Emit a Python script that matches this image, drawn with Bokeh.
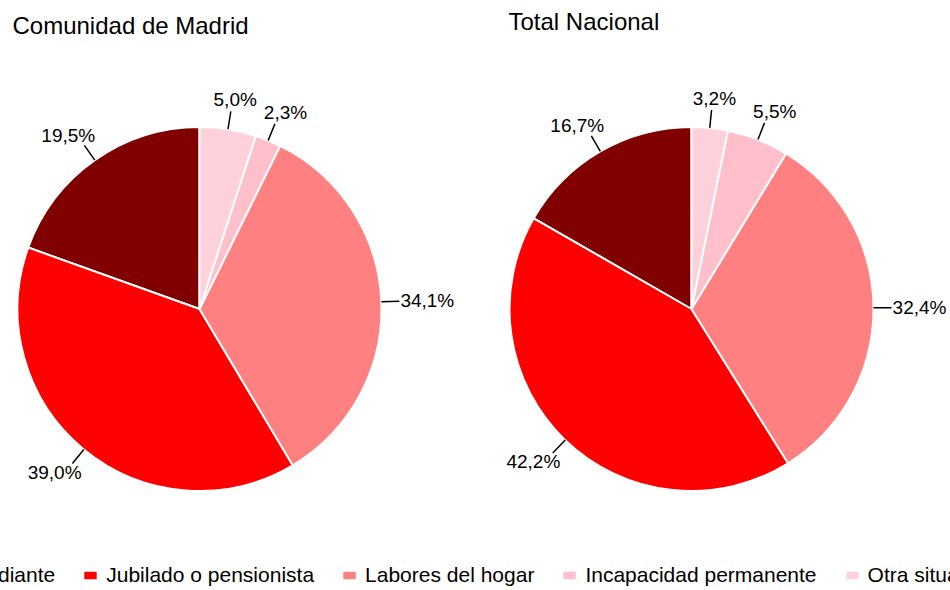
import math
from bokeh.plotting import figure
from bokeh.models import ColumnDataSource, Range1d, Legend, LegendItem
from bokeh.core.properties import value
from bokeh.embed import file_html
from bokeh.resources import INLINE

# ---- data ----
categories = ["Estudiante", "Jubilado o pensionista", "Labores del hogar",
              "Incapacidad permanente", "Otra situación"]
madrid = [19.5, 39.0, 34.1, 2.3, 5.0]
nacional = [16.7, 42.2, 32.4, 5.5, 3.2]
pie_titles = ["Comunidad de Madrid", "Total Nacional"]
colors = ["#800000", "#FF0000", "#FF8080", "#FFC0CB", "#FFD1DA"]

# ---- layout ----
W, H = 950, 590
FONT = "Liberation Sans"
R = 182
centers = [(199, 281.5), (691, 281.5)]
title_pos = [(12, 565.5), (508, 569)]
LEAD = 18

p = figure(width=W, height=H, x_range=Range1d(0, W), y_range=Range1d(0, H),
           x_axis_type=None, y_axis_type=None, toolbar_location=None,
           output_backend="svg", min_border=0, outline_line_color=None,
           background_fill_color="white", border_fill_color="white")
p.grid.visible = False

series = [madrid, nacional]
wedge_data = {c: dict(x=[], y=[], start=[], end=[]) for c in categories}
seg = dict(x0=[], y0=[], x1=[], y1=[])
lab = dict(x=[], y=[], text=[])

for vals, (cx, cy) in zip(series, centers):
    total = sum(vals)
    cum = 0.0
    for i in reversed(range(len(categories))):
        f0 = cum / total
        cum += vals[i]
        f1 = cum / total
        d = wedge_data[categories[i]]
        d["x"].append(cx)
        d["y"].append(cy)
        d["start"].append(math.pi / 2 - 2 * math.pi * f0)
        d["end"].append(math.pi / 2 - 2 * math.pi * f1)
        th = math.pi * (f0 + f1)
        ux, uy = math.sin(th), math.cos(th)
        seg["x0"].append(cx + R * ux)
        seg["y0"].append(cy + R * uy)
        ex, ey = cx + (R + LEAD) * ux, cy + (R + LEAD) * uy
        seg["x1"].append(ex)
        seg["y1"].append(ey)
        lab["x"].append(ex + 28 * ux)
        lab["y"].append(ey + 12 * uy)
        lab["text"].append(f"{vals[i]:.1f}%".replace(".", ","))

items = []
for cat, col in zip(categories, colors):
    r = p.wedge(x="x", y="y", radius=R, start_angle="start", end_angle="end",
                direction="clock", fill_color=col, line_color="white",
                line_width=2, source=ColumnDataSource(wedge_data[cat]))
    items.append(LegendItem(label=value(cat), renderers=[r]))

p.segment(x0="x0", y0="y0", x1="x1", y1="y1", source=ColumnDataSource(seg),
          line_color="black", line_width=1.5)
p.text(x="x", y="y", text="text", source=ColumnDataSource(lab),
       text_font=value(FONT), text_font_size="19px", text_align="center",
       text_baseline="middle", text_color="black")

tsrc = ColumnDataSource(dict(x=[t[0] for t in title_pos],
                             y=[t[1] for t in title_pos], text=pie_titles))
p.text(x="x", y="y", text="text", source=tsrc, text_font=value(FONT),
       text_font_size="24px", text_align="left", text_baseline="middle",
       text_color="black")

legend = Legend(items=items, orientation="horizontal", location=(-69, 3),
                glyph_width=18, glyph_height=12, label_standoff=7, spacing=26,
                padding=0, margin=0, border_line_color=None,
                background_fill_alpha=0, label_text_font=FONT,
                label_text_font_size="21px", label_text_color="black",
                label_height=22)
p.add_layout(legend)

open("out.html", "w").write(file_html(p, INLINE, "chart"))
